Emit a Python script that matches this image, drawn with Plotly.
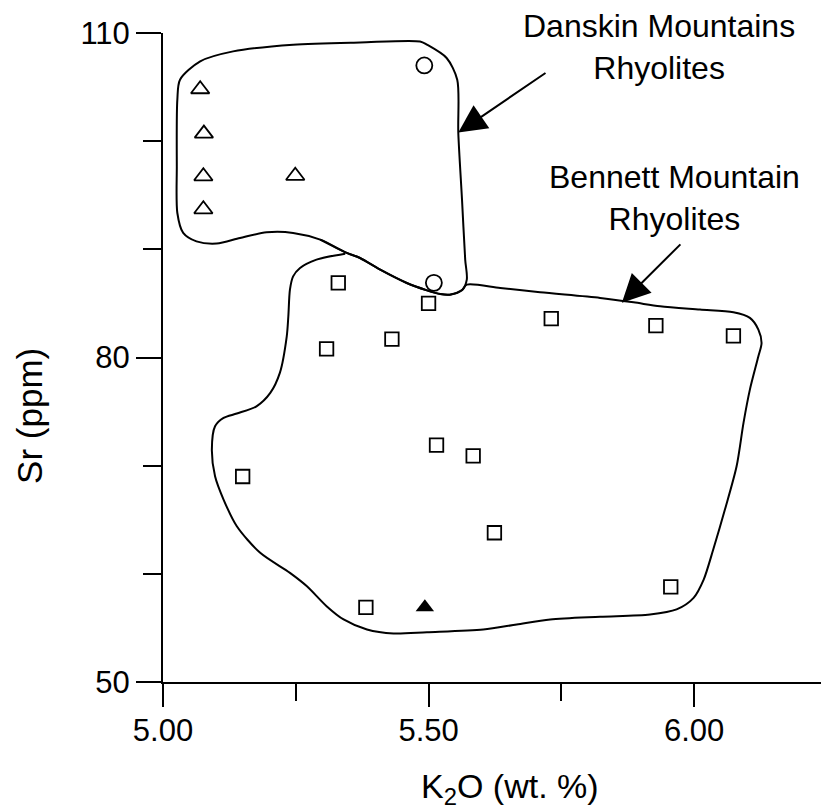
import plotly.graph_objects as go

# ---------------- data ----------------
tri_open_x = [5.070, 5.077, 5.076, 5.076, 5.249]
tri_open_y = [104.8, 100.7, 96.75, 93.7, 96.8]

circle_x = [5.492, 5.510]
circle_y = [107.0, 86.9]

square_x = [5.330, 5.500, 5.431, 5.308, 5.515, 5.584, 5.150, 5.382,
            5.731, 5.928, 6.074, 5.624, 5.956]
square_y = [86.9, 85.0, 81.7, 80.8, 71.9, 70.9, 69.0, 56.9,
            83.6, 82.95, 82.0, 63.8, 58.8]

tri_fill_x = [5.493]
tri_fill_y = [56.9]

# Danskin Mountains field outline
danskin_x = [5.032, 5.070, 5.132, 5.245, 5.371, 5.484, 5.497, 5.534, 5.554,
             5.556, 5.563, 5.569, 5.572, 5.563, 5.540, 5.522, 5.497, 5.459,
             5.409, 5.371, 5.346, 5.296, 5.245, 5.195, 5.145, 5.101, 5.063,
             5.038, 5.027, 5.026, 5.027, 5.032]
danskin_y = [105.68, 107.38, 108.30, 108.92, 109.13, 109.22, 108.92, 107.69,
             105.68, 100.76, 94.59, 89.05, 87.20, 86.23, 85.81, 85.86, 86.21,
             86.89, 88.12, 89.20, 89.67, 90.90, 91.52, 91.57, 91.05, 90.53,
             90.74, 91.52, 93.36, 97.67, 103.84, 105.68]

# Bennett Mountain field outline
bennett_x = [5.343, 5.289, 5.258, 5.245, 5.239, 5.236, 5.233, 5.220, 5.202,
             5.176, 5.139, 5.114, 5.098, 5.092, 5.098, 5.114, 5.139, 5.183,
             5.239, 5.271, 5.308, 5.340, 5.384, 5.434, 5.497, 5.603, 5.666,
             5.729, 5.823, 5.917, 5.967, 5.999, 6.018, 6.036, 6.058, 6.080,
             6.093, 6.105, 6.121, 6.127, 6.121, 6.105, 6.074, 6.011, 5.936,
             5.886, 5.823, 5.710, 5.635, 5.572]
bennett_y = [89.60, 89.05, 88.28, 87.50, 86.28, 83.81, 81.96, 78.58, 76.73,
             75.49, 74.82, 74.42, 73.64, 71.49, 69.02, 66.87, 64.40, 61.94,
             60.09, 58.85, 57.01, 55.78, 54.85, 54.48, 54.60, 54.85, 55.32,
             55.78, 56.03, 56.24, 56.71, 57.78, 59.47, 62.25, 65.94, 69.94,
             73.96, 77.03, 80.11, 81.35, 82.58, 83.66, 84.18, 84.43, 84.73,
             85.10, 85.51, 86.03, 86.43, 86.74]

x_range = [5.0, 6.2502]
y_range = [50, 110]
x_major = [5.0, 5.5, 6.0]
x_major_text = ["5.00", "5.50", "6.00"]
x_minor = [5.25, 5.75, 6.25]
y_major = [50, 80, 110]
y_minor = [60, 70, 90, 100]

labels = [
    dict(text="Danskin Mountains<br>Rhyolites", x=5.934, y=108.69,
         tip_x=5.556, tip_y=100.8, tail_x=5.723, tail_y=106.4),
    dict(text="Bennett Mountain<br>Rhyolites", x=5.964, y=94.78,
         tip_x=5.864, tip_y=85.07, tail_x=5.977, tail_y=90.6),
]

FONT = "Liberation Sans, Arial, Helvetica, sans-serif"

fig = go.Figure()

for ox, oy in [(danskin_x, danskin_y), (bennett_x + danskin_x[13:22],
                                        bennett_y + danskin_y[13:22])]:
    fig.add_trace(go.Scatter(x=ox, y=oy, mode="lines",
                             line=dict(color="black", width=2, shape="spline",
                                       smoothing=0.8),
                             hoverinfo="skip"))

mk_line = dict(color="black", width=1.8)
fig.add_trace(go.Scatter(x=tri_open_x, y=tri_open_y, mode="markers",
                         marker=dict(symbol="triangle-up-open", size=16,
                                     color="black", line=mk_line)))
fig.add_trace(go.Scatter(x=circle_x, y=circle_y, mode="markers",
                         marker=dict(symbol="circle-open", size=16,
                                     color="black", line=mk_line)))
fig.add_trace(go.Scatter(x=square_x, y=square_y, mode="markers",
                         marker=dict(symbol="square-open", size=13.5,
                                     color="black", line=mk_line)))
fig.add_trace(go.Scatter(x=tri_fill_x, y=tri_fill_y, mode="markers",
                         marker=dict(symbol="triangle-up", size=16,
                                     color="black")))

for lab in labels:
    fig.add_annotation(x=lab["x"], y=lab["y"], xref="x", yref="y",
                       text=lab["text"], showarrow=False,
                       font=dict(family=FONT, size=32, color="black"),
                       xanchor="center", yanchor="middle", align="center")
    fig.add_annotation(x=lab["tip_x"], y=lab["tip_y"], xref="x", yref="y",
                       ax=lab["tail_x"], ay=lab["tail_y"], axref="x", ayref="y",
                       text="", showarrow=True, arrowhead=2, arrowsize=2.8,
                       arrowwidth=2, arrowcolor="black")

fig.add_annotation(x=0.5226, y=-0.1645, xref="paper", yref="paper",
                   text="K<sub>2</sub>O (wt. %)", showarrow=False,
                   font=dict(family=FONT, size=34, color="black"),
                   xanchor="center", yanchor="middle")
fig.add_annotation(x=-0.2003, y=0.410, xref="paper", yref="paper",
                   text="Sr (ppm)", showarrow=False, textangle=-90,
                   font=dict(family=FONT, size=35, color="black"),
                   xanchor="center", yanchor="middle")

axis_common = dict(showline=True, linewidth=2, linecolor="black",
                   ticks="outside", tickwidth=2, tickcolor="black",
                   showgrid=False, zeroline=False,
                   tickfont=dict(family=FONT, size=31, color="black"))

fig.update_xaxes(range=x_range, tickmode="array", tickvals=x_major,
                 ticktext=x_major_text, ticklen=23, ticklabelstandoff=-3,
                 minor=dict(tickmode="array", tickvals=x_minor, ticklen=17,
                            tickwidth=2, tickcolor="black", ticks="outside",
                            showgrid=False),
                 **axis_common)
fig.update_yaxes(range=y_range, tickmode="array", tickvals=y_major,
                 ticklen=25,
                 minor=dict(tickmode="array", tickvals=y_minor, ticklen=18,
                            tickwidth=2, tickcolor="black", ticks="outside",
                            showgrid=False),
                 **axis_common)

# the page body adds an 8px offset, so the figure is sized to compensate
fig.update_layout(width=821, height=801,
                  margin=dict(l=155, r=2, t=25, b=127),
                  plot_bgcolor="white", paper_bgcolor="white",
                  showlegend=False,
                  font=dict(family=FONT, color="black"))

fig.write_html("out.html")
